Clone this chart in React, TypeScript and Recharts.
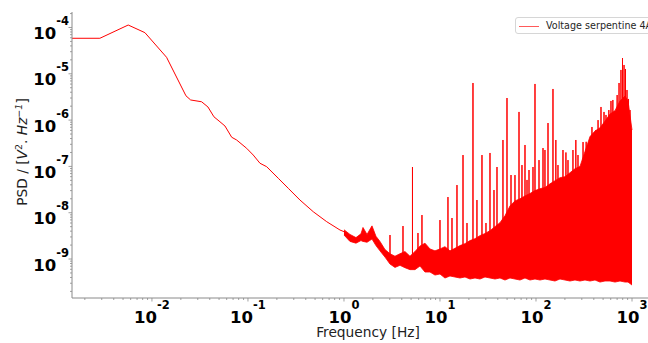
import React from 'react';
import { ComposedChart, Line, Area, XAxis, YAxis } from 'recharts';

// Low-frequency smooth part of the PSD
const curveFreq = [0.00147, 0.00287, 0.00566, 0.00845, 0.0142, 0.0226, 0.0253, 0.0329, 0.0383, 0.0442, 0.0511, 0.0576, 0.0677, 0.0762, 0.0969, 0.1135, 0.1334, 0.1566, 0.207, 0.263, 0.348, 0.479, 0.661, 0.909, 1.0];
const curvePsd = [5.85e-5, 5.85e-5, 1.13e-4, 7.73e-5, 2.27e-5, 3.35e-6, 2.72e-6, 2.49e-6, 1.92e-6, 1.18e-6, 9.2e-7, 7.46e-7, 4.26e-7, 3.72e-7, 2.46e-7, 1.76e-7, 1.17e-7, 9.86e-8, 5.54e-8, 3.37e-8, 1.88e-8, 1.05e-8, 6.4e-9, 4.23e-9, 3.9e-9];

// Noisy band: frequency, lower envelope, upper envelope
const bandFreq = [1.0, 1.155, 1.334, 1.503, 1.578, 1.738, 1.958, 2.154, 2.371, 2.674, 3.015, 3.398, 3.831, 4.318, 4.87, 5.49, 6.19, 6.978, 7.867, 8.87, 10, 11.27, 12.71, 14.33, 16.16, 18.22, 20.54, 23.16, 26.1, 29.43, 33.18, 37.41, 42.17, 47.54, 53.6, 60.43, 68.13, 76.81, 86.6, 97.63, 110.1, 124.1, 139.9, 157.7, 177.8, 200.5, 226.0, 254.8, 287.3, 323.9, 365.2, 411.7, 464.2, 523.3, 590.0, 665.2, 749.9, 845.4, 908.5, 1000];
const bandLow = [3.3e-9, 2.4e-9, 2.2e-9, 2.5e-9, 2.4e-9, 2.3e-9, 2.7e-9, 1.95e-9, 1.5e-9, 1.1e-9, 7.8e-10, 6.6e-10, 7.3e-10, 6.5e-10, 5.9e-10, 5.9e-10, 7.06e-10, 5.24e-10, 5.24e-10, 4.51e-10, 4.74e-10, 3.89e-10, 4.3e-10, 4.09e-10, 3.89e-10, 4.09e-10, 3.7e-10, 3.89e-10, 3.7e-10, 4.09e-10, 3.89e-10, 3.7e-10, 3.89e-10, 3.52e-10, 3.89e-10, 3.7e-10, 3.52e-10, 3.89e-10, 3.52e-10, 3.7e-10, 3.52e-10, 3.7e-10, 3.52e-10, 3.35e-10, 3.7e-10, 3.52e-10, 3.35e-10, 3.52e-10, 3.35e-10, 3.52e-10, 3.35e-10, 3.52e-10, 3.18e-10, 3.35e-10, 3.35e-10, 3.18e-10, 3.35e-10, 3.18e-10, 3.18e-10, 2.74e-10];
const bandHigh = [4.3e-9, 3.4e-9, 2.9e-9, 3.5e-9, 4.8e-9, 3.4e-9, 5.2e-9, 3.1e-9, 2.4e-9, 1.6e-9, 1.3e-9, 1.15e-9, 1.3e-9, 1.45e-9, 1.15e-9, 1.45e-9, 1.9e-9, 2.2e-9, 1.65e-9, 1.5e-9, 1.65e-9, 1.85e-9, 1.5e-9, 1.7e-9, 1.95e-9, 2.15e-9, 2.5e-9, 2.75e-9, 3.2e-9, 3.55e-9, 4.1e-9, 5.0e-9, 6.1e-9, 8.6e-9, 1.4e-8, 1.8e-8, 2.0e-8, 2.3e-8, 2.6e-8, 3.0e-8, 3.3e-8, 3.5e-8, 4.2e-8, 4.9e-8, 5.7e-8, 6.0e-8, 7.3e-8, 8.9e-8, 1.0e-7, 2.1e-7, 4.4e-7, 5.8e-7, 6.8e-7, 9.5e-7, 1.35e-6, 1.6e-6, 2.6e-6, 3.3e-6, 2.6e-6, 6.11e-7];

// Narrow spectral lines (spikes)
const spikeFreq = [3.015, 4.118, 5.17, 5.9, 6.49, 10.0, 12.11, 13.34, 15.03, 17.37, 19.11, 22.06, 24.27, 27.38, 30.13, 33.18, 36.52, 39.24, 45.29, 49.89, 54.93, 60.4, 66.53, 71.45, 76.81, 80.6, 84.57, 93.06, 97.63, 107.5, 118.3, 124.0, 133.4, 150.3, 161.0, 169.4, 191.0, 205.0, 215.4, 242.7, 260.0, 273.8, 309.0, 333.0, 348.3, 382.8, 421.7, 443.0, 475.4, 511.0, 535.8, 574.0, 603.9, 632.0, 665.2, 700.0, 732.8, 767.4, 796.2, 826.0, 855.6, 887.2, 920.0, 953.3];
const spikePeak = [3.3e-9, 5.16e-9, 9.71e-8, 3.65e-9, 8.91e-9, 6.95e-9, 2.18e-8, 7.69e-9, 3.96e-8, 1.76e-7, 6.0e-9, 6.33e-6, 1.88e-8, 1.76e-7, 6.0e-9, 1.95e-7, 3.09e-8, 9.71e-8, 3.72e-7, 3.0e-6, 6.52e-8, 6.5e-8, 1.5e-6, 1.07e-7, 2.9e-7, 5.1e-8, 8.36e-8, 9.71e-8, 6.03e-6, 1.37e-7, 2.49e-7, 2.26e-7, 8.65e-7, 4.7e-6, 3.72e-7, 1.07e-7, 2.26e-7, 2.0e-7, 1.37e-7, 2.26e-7, 3.72e-7, 1.76e-7, 3.36e-7, 3.4e-7, 2.9e-7, 7.1e-7, 6.11e-7, 1.0e-6, 1.92e-6, 1.5e-6, 1.29e-6, 1.65e-6, 2.59e-6, 2.72e-6, 1.57e-6, 3.48e-6, 6.33e-6, 1.21e-5, 2.19e-5, 1.55e-5, 1.27e-5, 4.47e-6, 2.86e-6, 1.65e-6];
const spikeBase = 1e-9;

const X_DOMAIN = [0.00147, 2154];
const Y_DOMAIN = [1.44e-10, 2.16e-4];
const X_MAJOR = [1e-2, 1e-1, 1, 10, 100, 1000];
const X_MAJOR_LABELS = ['-2', '-1', '0', '1', '2', '3'];
const Y_MAJOR = [1e-9, 1e-8, 1e-7, 1e-6, 1e-5, 1e-4];
const Y_MAJOR_LABELS = ['-9', '-8', '-7', '-6', '-5', '-4'];
const MINOR_MULT = [2, 3, 4, 5, 6, 7, 8, 9];
const X_DECADES = [1e-3, 1e-2, 1e-1, 1, 10, 100, 1000];
const Y_DECADES = [1e-10, 1e-9, 1e-8, 1e-7, 1e-6, 1e-5, 1e-4];

const SERIES_NAME = 'Voltage serpentine 4A';
const RED = '#ff0000';
const SPINE = '#8a8a8a';

const curveData = curveFreq.map((f, i) => ({ f, v: curvePsd[i] }));
const bandData = bandFreq.map((f, i) => ({ f, r: [bandLow[i], bandHigh[i]] }));
const spikeData = spikeFreq.flatMap((f, i) => [
  { f, v: spikeBase },
  { f, v: spikePeak[i] },
  { f, v: spikeBase },
]);

const inDomain = (v: number, d: number[]) => v >= d[0] && v <= d[1];
const xTicks = [...X_MAJOR, ...X_DECADES.flatMap((d) => MINOR_MULT.map((m) => d * m))].filter((v) => inDomain(v, X_DOMAIN));
const yTicks = [...Y_MAJOR, ...Y_DECADES.flatMap((d) => MINOR_MULT.map((m) => d * m))].filter((v) => inDomain(v, Y_DOMAIN));

const majorIndex = (arr: number[], v: number) =>
  arr.findIndex((m) => Math.abs(Math.log10(m) - Math.log10(v)) < 1e-6);

const tickFont = '"DejaVu Sans", sans-serif';

const XTick = (props: any) => {
  const { x, y, payload } = props;
  const i = majorIndex(X_MAJOR, payload.value);
  if (i < 0) return <line x1={x} x2={x} y1={y} y2={y + 2} stroke={SPINE} strokeWidth={0.8} />;
  return (
    <g>
      <line x1={x} x2={x} y1={y} y2={y + 3.5} stroke={SPINE} strokeWidth={0.8} />
      <text x={x} y={y + 25} textAnchor="middle" fontFamily={tickFont} fontWeight="bold" fontSize={16.5} fill="#000">
        10<tspan fontSize={11.5} dy={-14.5}>{X_MAJOR_LABELS[i]}</tspan>
      </text>
    </g>
  );
};

const YTick = (props: any) => {
  const { x, y, payload } = props;
  const i = majorIndex(Y_MAJOR, payload.value);
  if (i < 0) return <line x1={x} x2={x - 2} y1={y} y2={y} stroke={SPINE} strokeWidth={0.8} />;
  return (
    <g>
      <line x1={x} x2={x - 3.5} y1={y} y2={y} stroke={SPINE} strokeWidth={0.8} />
      <text x={x - 3} y={y + 11.5} textAnchor="end" fontFamily={tickFont} fontWeight="bold" fontSize={16.5} fill="#000">
        10<tspan fontSize={11.5} dy={-14}>{Y_MAJOR_LABELS[i]}</tspan>
      </text>
    </g>
  );
};

const labelFont = '"DejaVu Sans", sans-serif';

const XLabel = (props: any) => {
  const vb = props.viewBox || {};
  const cx = vb.x + vb.width / 2;
  return (
    <text x={cx} y={337} textAnchor="middle" fontFamily={labelFont} fontSize={13.75} fill="#222">
      Frequency [Hz]
    </text>
  );
};

const YLabel = () => {
  const cx = 26.7;
  const cy = 152;
  return (
    <text x={cx} y={cy} transform={`rotate(-90, ${cx}, ${cy})`} textAnchor="middle" fontFamily={labelFont} fontSize={13.75} fill="#222">
      PSD / [<tspan fontStyle="italic">V</tspan>
      <tspan fontSize={9.5} dy={-5}>2</tspan>
      <tspan dy={5}>.</tspan>
      <tspan fontStyle="italic"> Hz</tspan>
      <tspan fontSize={9.5} fontStyle="italic" dy={-5}>−1</tspan>
      <tspan dy={5}>]</tspan>
    </text>
  );
};

export default function App() {
  return (
    <div style={{ position: 'absolute', left: 0, top: 0, width: 648, height: 343, overflow: 'hidden', background: '#fff' }}>
      <ComposedChart width={680} height={343} margin={{ top: 12, right: 16, bottom: 0, left: 0 }}>
        <XAxis
          dataKey="f"
          type="number"
          scale="log"
          domain={X_DOMAIN}
          allowDataOverflow
          ticks={xTicks}
          interval={0}
          tick={<XTick />}
          tickLine={false}
          tickSize={0}
          tickMargin={0}
          height={45}
          axisLine={{ stroke: SPINE }}
          label={<XLabel />}
        />
        <XAxis
          xAxisId="top"
          orientation="top"
          dataKey="f"
          type="number"
          scale="log"
          domain={X_DOMAIN}
          allowDataOverflow
          tick={false}
          tickLine={false}
          height={0}
          axisLine={{ stroke: SPINE }}
        />
        <YAxis
          type="number"
          scale="log"
          domain={Y_DOMAIN}
          allowDataOverflow
          ticks={yTicks}
          interval={0}
          tick={<YTick />}
          tickLine={false}
          tickSize={0}
          tickMargin={0}
          width={72}
          axisLine={{ stroke: SPINE }}
          label={<YLabel />}
        />
        <Area
          data={bandData}
          dataKey="r"
          type="linear"
          stroke={RED}
          strokeWidth={0.8}
          fill={RED}
          fillOpacity={1}
          isAnimationActive={false}
          dot={false}
          activeDot={false}
        />
        <Line
          data={spikeData}
          dataKey="v"
          type="linear"
          stroke={RED}
          strokeWidth={1}
          dot={false}
          activeDot={false}
          isAnimationActive={false}
        />
        <Line
          data={curveData}
          dataKey="v"
          type="linear"
          stroke={RED}
          strokeWidth={1}
          dot={false}
          activeDot={false}
          isAnimationActive={false}
        />
      </ComposedChart>
      <div
        style={{
          position: 'absolute',
          left: 515,
          top: 17,
          width: 160,
          height: 17,
          border: '1px solid #d6d6d6',
          borderRadius: 3,
          background: '#fff',
          boxSizing: 'border-box',
        }}
      >
        <div style={{ position: 'absolute', left: 3, top: 7.5, width: 20, height: 0, borderTop: '1.3px solid #ff5a5a' }} />
        <div
          style={{
            position: 'absolute',
            left: 30,
            top: 1.5,
            fontFamily: labelFont,
            fontSize: 9.6,
            lineHeight: '12px',
            color: '#262626',
            whiteSpace: 'nowrap',
          }}
        >
          {SERIES_NAME}
        </div>
      </div>
    </div>
  );
}
